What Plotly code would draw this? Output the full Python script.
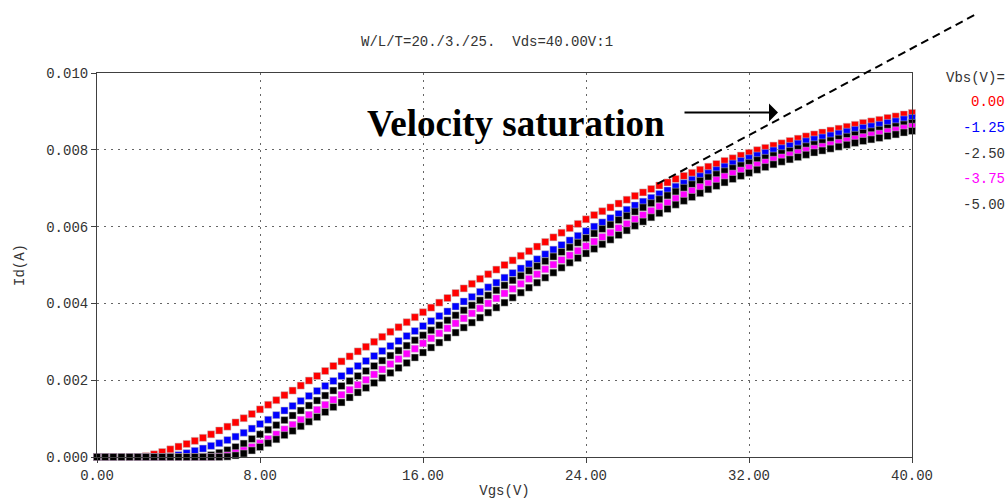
import numpy as np
import plotly.graph_objects as go

# ---------------- data ----------------
VGS_START, VGS_STOP, VGS_STEP = 0.0, 40.0, 0.4   # gate sweep (V)
vgs = np.round(np.arange(VGS_START, VGS_STOP + VGS_STEP / 2, VGS_STEP), 2)

vbs_labels = ["0.00", "-1.25", "-2.50", "-3.75", "-5.00"]
vbs_colors = ["#ff0000", "#0000ff", "#000000", "#ff00ff", "#000000"]

# Id values in mA, one per Vgs step
id_vbs_0_00 = [
    0, 0, 0, 0, 0, 0, 0.02, 0.07, 0.13, 0.2,
    0.27, 0.34, 0.42, 0.5, 0.59, 0.69, 0.79, 0.9, 1.01, 1.12,
    1.24, 1.36, 1.48, 1.61, 1.73, 1.86, 1.99, 2.11, 2.24, 2.37,
    2.49, 2.62, 2.75, 2.87, 3.0, 3.13, 3.26, 3.38, 3.51, 3.64,
    3.77, 3.89, 4.02, 4.14, 4.27, 4.39, 4.51, 4.64, 4.76, 4.88,
    5.0, 5.12, 5.24, 5.36, 5.48, 5.6, 5.72, 5.84, 5.96, 6.07,
    6.19, 6.3, 6.4, 6.5, 6.6, 6.7, 6.8, 6.89, 6.98, 7.07,
    7.15, 7.24, 7.32, 7.4, 7.48, 7.56, 7.63, 7.71, 7.78, 7.85,
    7.92, 7.99, 8.05, 8.11, 8.17, 8.23, 8.29, 8.35, 8.4, 8.45,
    8.5, 8.55, 8.6, 8.65, 8.7, 8.74, 8.78, 8.83, 8.87, 8.92,
    8.96,
]
id_vbs_m1_25 = [
    0, 0, 0, 0, 0, 0, 0, 0, 0, 0.01,
    0.05, 0.1, 0.16, 0.22, 0.29, 0.36, 0.44, 0.53, 0.63, 0.74,
    0.86, 0.97, 1.09, 1.21, 1.33, 1.46, 1.59, 1.72, 1.85, 1.98,
    2.11, 2.24, 2.37, 2.5, 2.63, 2.76, 2.89, 3.02, 3.15, 3.28,
    3.41, 3.54, 3.67, 3.79, 3.92, 4.05, 4.17, 4.3, 4.42, 4.54,
    4.67, 4.79, 4.91, 5.03, 5.15, 5.28, 5.4, 5.52, 5.64, 5.76,
    5.88, 6.0, 6.11, 6.22, 6.33, 6.44, 6.55, 6.65, 6.75, 6.85,
    6.94, 7.04, 7.13, 7.22, 7.31, 7.39, 7.47, 7.56, 7.64, 7.71,
    7.78, 7.85, 7.92, 7.98, 8.04, 8.1, 8.16, 8.22, 8.27, 8.32,
    8.37, 8.42, 8.47, 8.52, 8.57, 8.61, 8.65, 8.7, 8.74, 8.79,
    8.83,
]
id_vbs_m2_50 = [
    0, 0, 0, 0, 0, 0, 0, 0, 0, 0,
    0, 0, 0, 0.01, 0.05, 0.11, 0.18, 0.26, 0.35, 0.47,
    0.59, 0.71, 0.83, 0.96, 1.08, 1.21, 1.34, 1.47, 1.6, 1.73,
    1.85, 1.98, 2.11, 2.24, 2.37, 2.51, 2.64, 2.77, 2.9, 3.04,
    3.17, 3.3, 3.43, 3.56, 3.69, 3.82, 3.95, 4.08, 4.21, 4.34,
    4.47, 4.6, 4.72, 4.85, 4.97, 5.1, 5.22, 5.34, 5.46, 5.58,
    5.7, 5.82, 5.94, 6.05, 6.17, 6.28, 6.39, 6.5, 6.61, 6.71,
    6.81, 6.91, 7.01, 7.1, 7.19, 7.28, 7.36, 7.44, 7.52, 7.59,
    7.66, 7.73, 7.79, 7.85, 7.91, 7.97, 8.03, 8.09, 8.14, 8.19,
    8.24, 8.29, 8.34, 8.39, 8.44, 8.48, 8.52, 8.57, 8.61, 8.66,
    8.7,
]
id_vbs_m3_75 = [
    0, 0, 0, 0, 0, 0, 0, 0, 0, 0,
    0, 0, 0, 0, 0, 0.01, 0.04, 0.1, 0.17, 0.26,
    0.36, 0.47, 0.59, 0.72, 0.84, 0.97, 1.1, 1.23, 1.36, 1.49,
    1.62, 1.75, 1.88, 2.01, 2.15, 2.28, 2.42, 2.55, 2.69, 2.82,
    2.96, 3.09, 3.22, 3.35, 3.48, 3.61, 3.74, 3.87, 4.0, 4.13,
    4.26, 4.38, 4.51, 4.64, 4.76, 4.89, 5.01, 5.13, 5.25, 5.37,
    5.49, 5.61, 5.73, 5.84, 5.96, 6.07, 6.19, 6.3, 6.41, 6.52,
    6.62, 6.73, 6.83, 6.93, 7.03, 7.12, 7.21, 7.3, 7.38, 7.46,
    7.53, 7.6, 7.67, 7.74, 7.8, 7.86, 7.92, 7.98, 8.03, 8.08,
    8.13, 8.18, 8.23, 8.28, 8.33, 8.38, 8.42, 8.47, 8.51, 8.56,
    8.6,
]
id_vbs_m5_00 = [
    0, 0, 0, 0, 0, 0, 0, 0, 0, 0,
    0, 0, 0, 0, 0, 0, 0.01, 0.04, 0.09, 0.17,
    0.26, 0.36, 0.46, 0.57, 0.68, 0.8, 0.92, 1.04, 1.17, 1.3,
    1.42, 1.55, 1.68, 1.8, 1.93, 2.06, 2.19, 2.32, 2.45, 2.59,
    2.72, 2.85, 2.98, 3.11, 3.24, 3.37, 3.5, 3.63, 3.76, 3.89,
    4.02, 4.15, 4.28, 4.41, 4.54, 4.67, 4.8, 4.93, 5.06, 5.18,
    5.3, 5.42, 5.54, 5.66, 5.78, 5.9, 6.02, 6.13, 6.24, 6.35,
    6.46, 6.57, 6.67, 6.77, 6.87, 6.97, 7.06, 7.15, 7.24, 7.32,
    7.4, 7.48, 7.55, 7.62, 7.69, 7.75, 7.81, 7.87, 7.93, 7.98,
    8.03, 8.08, 8.13, 8.18, 8.23, 8.27, 8.31, 8.36, 8.4, 8.45,
    8.49,
]
series = [id_vbs_0_00, id_vbs_m1_25, id_vbs_m2_50, id_vbs_m3_75, id_vbs_m5_00]

x_ticks = [0, 8, 16, 24, 32, 40]
y_ticks = [0.000, 0.002, 0.004, 0.006, 0.008, 0.010]

# tangent guide line (Vgs, Id) from the linear region into saturation
guide_start = (27.5, 0.00711)
guide_end = (43.1, 0.01152)

title_text = "W/L/T=20./3./25.  Vds=40.00V:1"
legend_title = "Vbs(V)="
note_text = "Velocity saturation"

# ---------------- figure ----------------
W, H = 1008, 503
ML, MR, MT, MB = 97, 96, 73, 46
XR = [0, 40]
YR = [0, 0.010]

TXT = "#333333"
MONO = "Liberation Mono"

fig = go.Figure()
for lab, col, vals in zip(vbs_labels, vbs_colors, series):
    fig.add_trace(go.Scatter(
        x=vgs, y=np.array(vals) * 1e-3, mode="markers", name=lab,
        marker=dict(symbol="square", size=7, color=col,
                    line=dict(width=0.6, color="rgba(190,190,190,0.8)")),
        cliponaxis=False, showlegend=False,
    ))

def xp(v):
    return (v - XR[0]) / (XR[1] - XR[0])

def yp(v):
    return (v - YR[0]) / (YR[1] - YR[0])

fig.add_shape(type="line", xref="paper", yref="paper",
              x0=xp(guide_start[0]), y0=yp(guide_start[1]),
              x1=xp(guide_end[0]), y1=yp(guide_end[1]),
              line=dict(color="black", width=2, dash="8px,5px"))

plot_h = H - MT - MB
plot_w = W - ML - MR

annotations = []
annotations.append(dict(text=title_text, xref="paper", yref="paper",
                        x=(487 - ML) / plot_w, y=(H - MB - 42) / plot_h,
                        xanchor="center", yanchor="middle", showarrow=False,
                        font=dict(family=MONO, size=14, color=TXT)))
annotations.append(dict(text=legend_title, xref="paper", yref="paper",
                        x=(1006 - ML) / plot_w, y=(H - MB - 78) / plot_h,
                        xanchor="right", yanchor="middle", showarrow=False,
                        borderpad=0,
                        font=dict(family=MONO, size=14, color=TXT)))
for k, (lab, col) in enumerate(zip(vbs_labels, vbs_colors)):
    annotations.append(dict(text=lab, xref="paper", yref="paper",
                            x=(1006 - ML) / plot_w,
                            y=(H - MB - (102 + 25.8 * k)) / plot_h,
                            xanchor="right", yanchor="middle", showarrow=False,
                            borderpad=0,
                            font=dict(family=MONO, size=14,
                                      color=TXT if col == "#000000" else col)))
annotations.append(dict(text="<b>" + note_text + "</b>", xref="paper", yref="paper",
                        x=(516 - ML) / plot_w, y=(H - MB - 123) / plot_h,
                        xanchor="center", yanchor="middle", showarrow=False,
                        font=dict(family="Liberation Serif", size=37, color="black")))
annotations.append(dict(text="", xref="paper", yref="paper",
                        x=(778 - ML) / plot_w, y=(H - MB - 112.5) / plot_h,
                        ax=-95, ay=0, showarrow=True, arrowhead=1,
                        arrowsize=1.5, arrowwidth=2, arrowcolor="black",
                        standoff=0, startstandoff=0))

axis_common = dict(showline=True, linecolor="#404040", linewidth=1, mirror=True,
                   showgrid=True, gridcolor="#666666", gridwidth=1,
                   griddash="2px,5px", zeroline=False, ticks="outside",
                   tickcolor="#404040", ticklen=5,
                   tickfont=dict(family=MONO, size=14, color=TXT))

fig.update_layout(
    width=W, height=H,
    margin=dict(l=ML, r=MR, t=MT, b=MB, autoexpand=False),
    paper_bgcolor="white", plot_bgcolor="white",
    xaxis=dict(range=XR, tickvals=x_ticks, tickformat=".2f",
               title=dict(text="Vgs(V)", standoff=2,
                          font=dict(family=MONO, size=14, color=TXT)),
               **axis_common),
    yaxis=dict(range=YR, tickvals=y_ticks, tickformat=".3f",
               title=dict(text="Id(A)", standoff=18,
                          font=dict(family=MONO, size=14, color=TXT)),
               **axis_common),
    annotations=annotations,
    showlegend=False,
)

fig.write_html("out.html")
